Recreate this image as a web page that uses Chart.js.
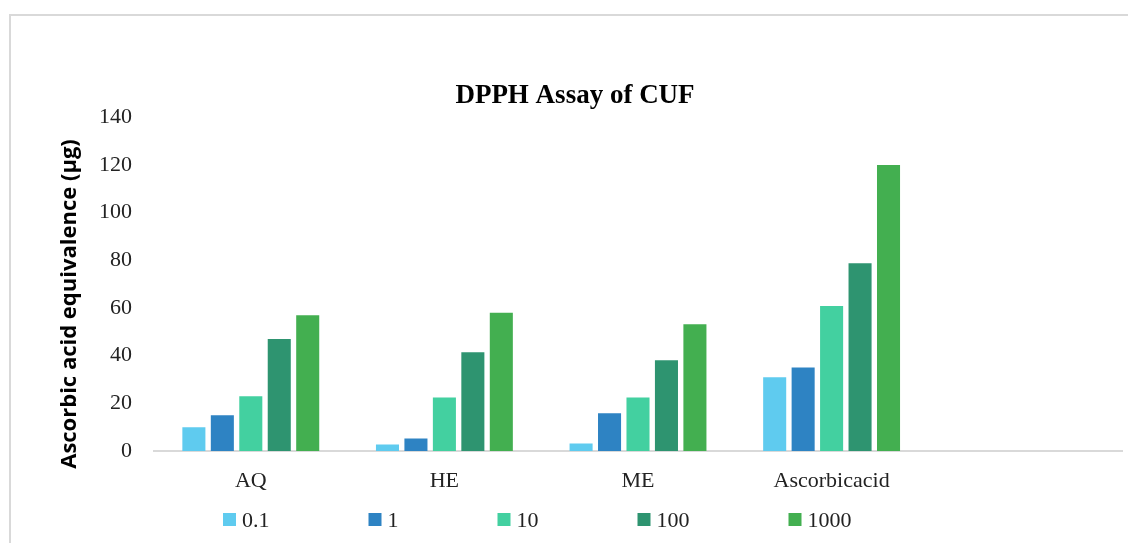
<!DOCTYPE html>
<html>
<head>
<meta charset="utf-8">
<script src="https://cdn.jsdelivr.net/npm/chart.js@4.4.0/dist/chart.umd.min.js"></script>
<style>
  html, body { margin: 0; padding: 0; background: #fff; overflow: hidden; }
  #wrap { position: relative; width: 1128px; height: 543px; }
  #frame { position: absolute; left: 9px; top: 14px; width: 1200px; height: 600px;
           border-left: 2px solid #d9d9d9; border-top: 2px solid #d9d9d9; pointer-events: none; }
</style>
</head>
<body>
<div id="wrap">
  <canvas id="dpphChart" width="1128" height="543"></canvas>
  <div id="frame"></div>
</div>
<script>
// categories (last one is an empty slot, as in the original sheet)
const categories = ['AQ', 'HE', 'ME', 'Ascorbicacid', ''];
const concentrations = ['0.1', '1', '10', '100', '1000'];

// ascorbic acid equivalence (µg), one array per concentration
const conc_0_1  = [10, 2.7, 3.1, 30.9, null];
const conc_1    = [15, 5.2, 15.8, 35, null];
const conc_10   = [23, 22.4, 22.4, 60.9, null];
const conc_100  = [47, 41.4, 38.1, 78.8, null];
const conc_1000 = [57, 58, 53.2, 120, null];

const yTicks = [0, 20, 40, 60, 80, 100, 120, 140];

const seriesValues = [conc_0_1, conc_1, conc_10, conc_100, conc_1000];
const seriesColors = ['#5fcbef', '#2e83c3', '#43d0a0', '#2e9470', '#43af50'];

const serif = 'Liberation Serif';
const textColor = '#222';

// legend drawn as one spaced row under the axis labels
const bottomLegend = {
  id: 'bottomLegend',
  afterDraw(chart) {
    const ctx = chart.ctx;
    ctx.save();
    ctx.font = '22px "' + serif + '"';
    ctx.textBaseline = 'middle';
    let x = 223;
    const y = 520;
    chart.data.datasets.forEach(ds => {
      ctx.fillStyle = ds.backgroundColor;
      ctx.fillRect(x, y - 7, 13, 13);
      ctx.fillStyle = textColor;
      ctx.fillText(ds.label, x + 19, y + 1);
      x += 19 + ctx.measureText(ds.label).width + 99;
    });
    ctx.restore();
  }
};

// rotated y axis title
const yTitle = {
  id: 'yTitle',
  afterDraw(chart) {
    const ctx = chart.ctx;
    ctx.save();
    ctx.translate(70, 304);
    ctx.rotate(-Math.PI / 2);
    ctx.font = 'bold 22px "Open Sans"';
    ctx.fillStyle = '#000';
    ctx.textAlign = 'center';
    ctx.textBaseline = 'middle';
    ctx.fillText('Ascorbic acid equivalence (µg)', 0, 0);
    ctx.restore();
  }
};

const ctx = document.getElementById('dpphChart');
new Chart(ctx, {
  type: 'bar',
  data: {
    labels: categories,
    datasets: concentrations.map((c, i) => ({
      label: c,
      data: seriesValues[i],
      backgroundColor: seriesColors[i],
      borderWidth: 0,
      categoryPercentage: 0.735,
      barPercentage: 0.81
    }))
  },
  options: {
    responsive: false,
    animation: false,
    layout: {
      padding: { left: 28, right: 6, top: 0, bottom: 32 }
    },
    plugins: {
      legend: { display: false },
      tooltip: { enabled: false },
      title: {
        display: true,
        text: 'DPPH Assay of CUF',
        color: '#000',
        font: { family: serif, size: 27, weight: 'bold' },
        padding: { top: 80, bottom: 5 }
      }
    },
    scales: {
      x: {
        grid: { display: false, drawTicks: false },
        border: { display: true, color: '#d9d9d9', width: 2 },
        ticks: {
          padding: 17,
          color: textColor,
          font: { family: serif, size: 22 }
        },
        afterFit(scale) { scale.height = 60; }
      },
      y: {
        min: 0,
        max: 140,
        grid: { display: false, drawTicks: false },
        border: { display: false },
        ticks: {
          stepSize: 20,
          padding: 22,
          color: textColor,
          font: { family: serif, size: 22 },
          callback: function(value) {
            return yTicks.includes(value) ? value : '';
          }
        },
        afterFit(scale) { scale.width = 126; }
      }
    }
  },
  plugins: [bottomLegend, yTitle]
});
</script>
</body>
</html>
